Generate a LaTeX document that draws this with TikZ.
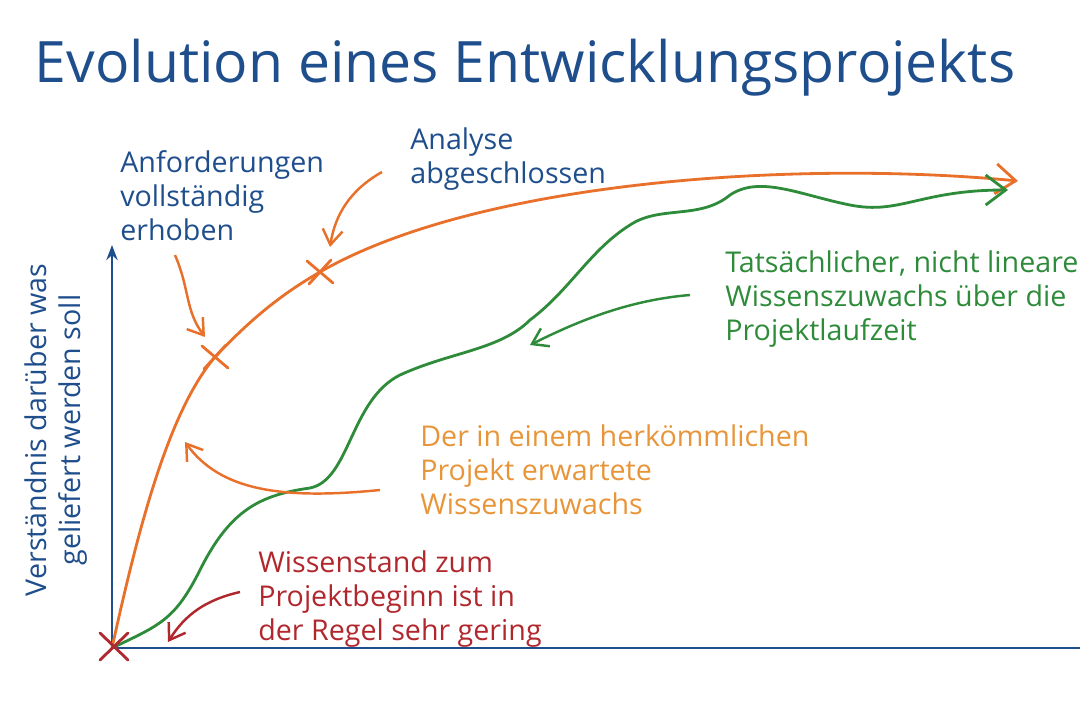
\documentclass[tikz,border=0pt]{standalone}
\usepackage{fontspec}
\setmainfont{Open Sans}
\usetikzlibrary{positioning, arrows.meta, calc}
\definecolor{axisblue}{HTML}{1F4E8C}
\definecolor{curveorange}{HTML}{E8702A}
\definecolor{textorange}{HTML}{E8953A}
\definecolor{curvegreen}{HTML}{2E8B3A}
\definecolor{startred}{HTML}{B0282E}
\begin{document}
\begin{tikzpicture}[x=0.02cm, y=-0.02cm,
		note/.style={align=left, anchor=north west, inner sep=0pt, font=\fontsize{16.3}{19.5}\selectfont},
		cross/.style={line width=1.6pt, line cap=round},
		pointer/.style={line width=1.4pt, -{Straight Barb[length=3mm, width=4mm]}},
		>=Straight Barb
		]
		\useasboundingbox (0,0) rectangle (1080,720);
		\clip (0,0) rectangle (1080,720);
		
		\node[text=axisblue, font=\fontsize{32.5}{38}\selectfont] (title) at (525,68) {Evolution eines Entwicklungsprojekts};
		
		% axes
		\coordinate (o) at (112,648);
		\coordinate (ytop) at (112,245);
		\coordinate (xend) at (1085,648);
		\draw[axisblue, line width=1.5pt, -{Stealth[length=3mm]}] (o) -- (ytop);
		\draw[axisblue, line width=1.5pt] (o) -- (xend);
		\node[rotate=90, text=axisblue, align=center, font=\fontsize{16.3}{19.5}\selectfont] (ylab) at (56,430) {Verständnis darüber was\\geliefert werden soll};
		
		% expected curve
		\coordinate (e1) at (215,357);
		\coordinate (e2) at (320,272);
		\coordinate (eend) at (1018,181);
		\draw[curveorange, line width=1.6pt, -{Straight Barb[length=4mm, width=6mm]}]
			(o) .. controls (140,520) and (170,410) .. (e1)
			.. controls (250,320) and (280,295) .. (e2)
			.. controls (480,180) and (800,160) .. (eend);
		\foreach \c in {e1,e2} {
			\draw[curveorange, cross] ($(\c)+(-13,-11)$) -- ($(\c)+(13,11)$);
			\draw[curveorange, cross] ($(\c)+(-11,12)$) -- ($(\c)+(11,-12)$);
		}
		
		% actual curve
		\coordinate (aend) at (1008,190);
		\draw[curvegreen, line width=1.6pt, -{Straight Barb[length=4mm, width=6mm]}]
			(o) .. controls (160,625) and (175,620) .. (200,570)
			.. controls (230,510) and (260,495) .. (310,488)
			.. controls (350,480) and (350,400) .. (400,375)
			.. controls (450,352) and (500,350) .. (530,320)
			.. controls (570,290) and (590,250) .. (630,225)
			.. controls (660,205) and (700,220) .. (730,195)
			.. controls (760,175) and (800,195) .. (850,205)
			.. controls (900,215) and (920,190) .. (aend);
		
		% start marker
		\draw[startred, cross] (100,633) -- (128,660);
		\draw[startred, cross] (100,660) -- (128,633);
		
		% labels and pointers
		\node[note, text=axisblue] (req) at (120,150) {Anforderungen\\vollständig\\erhoben};
		\node[note, text=axisblue] (ana) at (410,127) {Analyse\\abgeschlossen};
		\node[note, text=curvegreen] (act) at (725,250) {Tatsächlicher, nicht linearer\\Wissenszuwachs über die\\Projektlaufzeit};
		\node[note, text=textorange] (exp) at (420,424) {Der in einem herkömmlichen\\Projekt erwartete\\Wissenszuwachs};
		\node[note, text=startred] (start) at (258,550) {Wissenstand zum\\Projektbeginn ist in\\der Regel sehr gering};
		
		\coordinate (reqtip) at (205,337);
		\coordinate (anatip) at (330,247);
		\coordinate (acttip) at (530,345);
		\coordinate (exptip) at (185,442);
		\coordinate (starttip) at (168,642);
		\draw[pointer, curveorange] (175,255) .. controls (190,290) and (185,310) .. (reqtip);
		\draw[pointer, curveorange] (382,172) .. controls (350,190) and (335,215) .. (anatip);
		\draw[pointer, curvegreen] (690,295) .. controls (630,300) and (580,320) .. (acttip);
		\draw[pointer, curveorange] (380,490) .. controls (280,500) and (220,490) .. (exptip);
		\draw[pointer, startred] (240,592) .. controls (205,600) and (185,615) .. (starttip);
\end{tikzpicture}
\end{document}
